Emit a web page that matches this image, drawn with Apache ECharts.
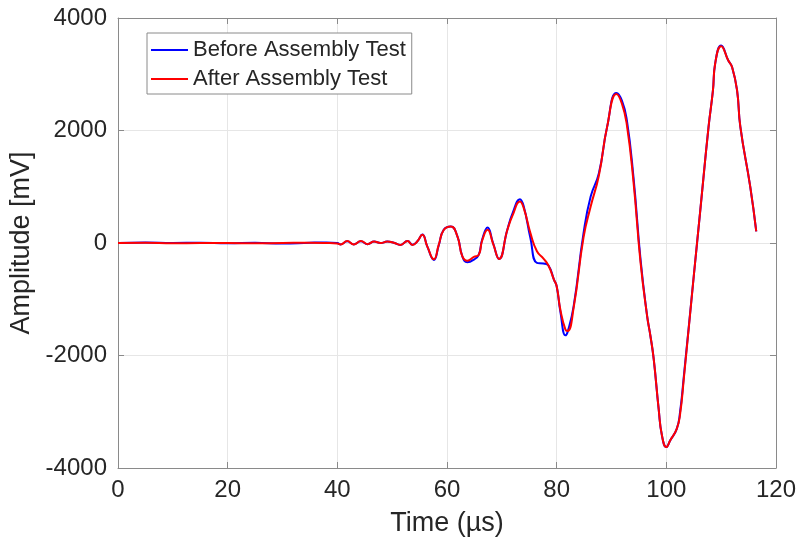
<!DOCTYPE html>
<html>
<head>
<meta charset="utf-8">
<script src="https://cdn.jsdelivr.net/npm/echarts@6/dist/echarts.min.js"></script>
<style>
html,body{margin:0;padding:0;background:#fff;}
#chart{width:800px;height:546px;}
</style>
</head>
<body>
<div id="chart"></div>
<script>
// Time axis samples (µs)
var timeUs = [0, 5, 10, 15, 20, 25, 30, 35, 38, 40, 40.6, 41.8, 43.0, 44.3, 45.5, 46.7, 47.9, 49.1, 50.3, 51.5, 52.8, 53.7, 54.6,
  55.5, 56.4, 57.6, 58.5, 59.4, 60.7, 61.9, 62.8, 63.7, 64.9, 65.8, 66.4, 67.4, 68.4, 69.5, 71.0, 72.0, 73.3, 74.0, 75.2,
  76.4, 77.6, 78.5, 79.5, 80.0, 80.7, 81.6, 82.0, 83.1, 84.9, 86.2, 87.7, 89.2, 90.9, 91.9, 92.8, 94.0, 95.3, 96.5, 97.1,
  97.7, 98.6, 99.2, 100.0, 100.7, 101.9, 102.5, 103.2, 105.0, 106.2, 107.7, 108.5, 108.9, 110.0, 111.3, 112.0, 112.9, 113.5,
  115.3, 116.4];
// Amplitude before assembly test (mV)
var beforeMv = [0, 10, 0, 5, -5, 5, -10, 5, 10, 0, -25, 30, -25, 30, -20, 25, 0, 25, 5, -35, 35, -30, 30,
  150, -60, -300, -40, 235, 294, 117, -237, -343, -296, -207, 58, 276, 0, -283, 235, 540, 778, 648, 94,
  -354, -365, -400, -650, -770, -1235, -1641, -1580, -1122, 177, 825, 1239, 2064, 2666, 2530, 2182, 1179, -296, -1299, -1653,
  -2065, -2950, -3423, -3628, -3511, -3304, -3009, -2361, -591, 589, 2064, 2713, 3186, 3510, 3244, 3126, 2713, 2064,
  1002, 205];
// Amplitude after assembly test (mV)
var afterMv = [0, 5, -5, 0, 0, -5, 0, 5, 0, -10, -25, 35, -25, 35, -20, 25, 0, 25, 5, -35, 35, -35, 30,
  147, -60, -290, -30, 230, 294, 117, -237, -314, -248, -207, 40, 235, -10, -283, 230, 500, 736, 619, 180,
  -148, -278, -400, -650, -770, -1200, -1540, -1564, -1150, 100, 648, 1200, 2064, 2650, 2478, 2100, 1100, -350, -1299, -1653,
  -2065, -2950, -3423, -3628, -3511, -3304, -3050, -2400, -591, 589, 2064, 2713, 3186, 3500, 3244, 3126, 2713, 2064,
  1002, 205];
var seriesNames = ['Before Assembly Test', 'After Assembly Test'];
var xTicks = {min: 0, max: 120, step: 20};
var yTicks = {min: -4000, max: 4000, step: 2000};

function pairs(xs, ys) { return xs.map(function (x, i) { return [x, ys[i]]; }); }

var FONT = "'Liberation Sans', Arial, Helvetica, sans-serif";
var boxColor = '#8a8a8a';
var textColor = '#262626';

var chart = echarts.init(document.getElementById('chart'), null, {renderer: 'canvas'});
chart.setOption({
  backgroundColor: '#ffffff',
  animation: false,
  grid: {left: 118, right: 24, top: 18, bottom: 78, containLabel: false, outerBoundsMode: 'none'},
  legend: {
    orient: 'vertical',
    left: 147, top: 33,
    data: seriesNames,
    icon: 'rect',
    backgroundColor: '#ffffff',
    borderColor: boxColor,
    borderWidth: 1,
    borderRadius: 0,
    padding: [5, 6, 3, 4],
    itemWidth: 37, itemHeight: 2,
    itemGap: 5,
    textStyle: {fontFamily: FONT, fontSize: 22, color: textColor, lineHeight: 24}
  },
  xAxis: [{
    type: 'value', min: xTicks.min, max: xTicks.max, interval: xTicks.step,
    name: 'Time (µs)', nameLocation: 'middle', nameGap: 42,
    nameTextStyle: {fontFamily: FONT, fontSize: 27, color: textColor},
    axisLine: {show: true, onZero: false, lineStyle: {color: boxColor, width: 1}},
    axisTick: {show: true, inside: true, length: 6, lineStyle: {color: boxColor}},
    axisLabel: {fontFamily: FONT, fontSize: 24, color: textColor, margin: 10,
      formatter: function (v) { return String(v); }},
    splitLine: {show: true, lineStyle: {color: '#e6e6e6', width: 1}}
  }, {
    type: 'value', position: 'top', min: xTicks.min, max: xTicks.max, interval: xTicks.step,
    axisLine: {show: true, onZero: false, lineStyle: {color: boxColor, width: 1}},
    axisTick: {show: true, inside: true, length: 6, lineStyle: {color: boxColor}},
    axisLabel: {show: false}, splitLine: {show: false}
  }],
  yAxis: [{
    type: 'value', min: yTicks.min, max: yTicks.max, interval: yTicks.step,
    name: 'Amplitude [mV]', nameLocation: 'middle', nameGap: 80,
    nameTextStyle: {fontFamily: FONT, fontSize: 27, color: textColor},
    axisLine: {show: true, onZero: false, lineStyle: {color: boxColor, width: 1}},
    axisTick: {show: true, inside: true, length: 6, lineStyle: {color: boxColor}},
    axisLabel: {fontFamily: FONT, fontSize: 24, color: textColor, margin: 11,
      formatter: function (v) { return String(v); }},
    splitLine: {show: true, lineStyle: {color: '#e6e6e6', width: 1}}
  }, {
    type: 'value', position: 'right', min: yTicks.min, max: yTicks.max, interval: yTicks.step,
    axisLine: {show: true, onZero: false, lineStyle: {color: boxColor, width: 1}},
    axisTick: {show: true, inside: true, length: 6, lineStyle: {color: boxColor}},
    axisLabel: {show: false}, splitLine: {show: false}
  }],
  series: [{
    name: seriesNames[0], type: 'line', xAxisIndex: 0, yAxisIndex: 0,
    data: pairs(timeUs, beforeMv), smooth: 0.5, symbol: 'none', showSymbol: false,
    lineStyle: {color: '#0000ff', width: 2}, itemStyle: {color: '#0000ff'}
  }, {
    name: seriesNames[1], type: 'line', xAxisIndex: 0, yAxisIndex: 0,
    data: pairs(timeUs, afterMv), smooth: 0.5, symbol: 'none', showSymbol: false,
    lineStyle: {color: '#ff0000', width: 2}, itemStyle: {color: '#ff0000'}
  }]
});
</script>
</body>
</html>
